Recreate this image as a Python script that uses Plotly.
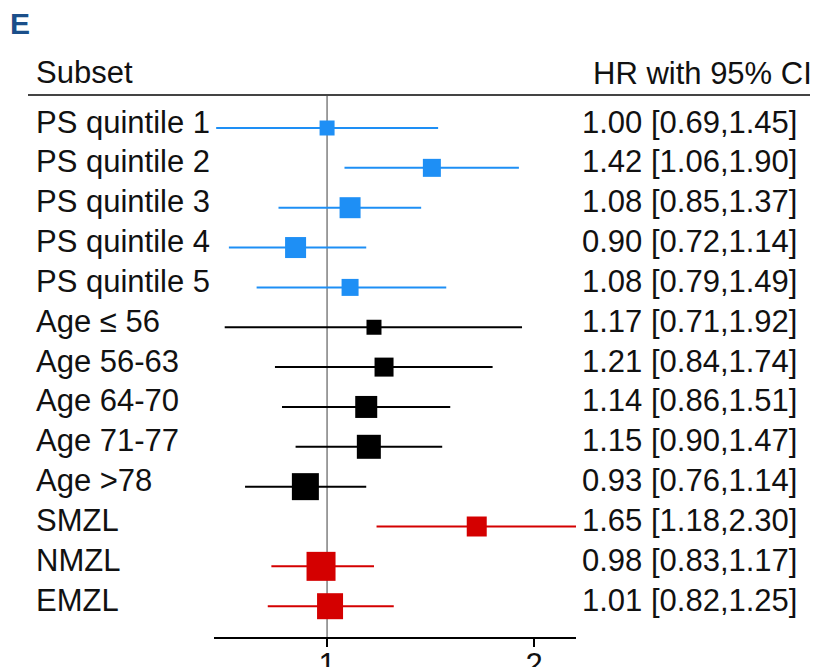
import math
import plotly.graph_objects as go

# ---- data ----
subsets = ["PS quintile 1", "PS quintile 2", "PS quintile 3", "PS quintile 4", "PS quintile 5",
           "Age \u2264 56", "Age 56-63", "Age 64-70", "Age 71-77", "Age >78",
           "SMZL", "NMZL", "EMZL"]
hr = [1.00, 1.42, 1.08, 0.90, 1.08, 1.17, 1.21, 1.14, 1.15, 0.93, 1.65, 0.98, 1.01]
ci_low = [0.69, 1.06, 0.85, 0.72, 0.79, 0.71, 0.84, 0.86, 0.90, 0.76, 1.18, 0.83, 0.82]
ci_high = [1.45, 1.90, 1.37, 1.14, 1.49, 1.92, 1.74, 1.51, 1.47, 1.14, 2.30, 1.17, 1.25]
groups = ["PS"] * 5 + ["Age"] * 5 + ["Histology"] * 3
x_ticks = [1, 2]

# ---- styles ----
box_px = [15, 18, 21, 21, 17, 15, 19, 22, 24, 27, 20, 29, 26]
colors = {"PS": "#1E8FF5", "Age": "#000000", "Histology": "#D40000"}
FONT = "Liberation Sans, Arial, sans-serif"
FS = 31
OFF = 8                       # page body margin in the browser
W, H = 818 - OFF, 667 - OFF   # figure size (reference px minus body margin)
ax_left, ax_right = 214 - OFF, 576 - OFF
top_px, bottom_px = 96 - OFF, 637 - OFF
row0, row_step = 128 - OFF, 39.85

fig = go.Figure()
for g, col in colors.items():
    idx = [i for i, gg in enumerate(groups) if gg == g]
    xs, ys = [], []
    for i in idx:
        xs += [ci_low[i], ci_high[i], None]
        ys += [i, i, None]
    fig.add_trace(go.Scatter(x=xs, y=ys, mode="lines",
                             line=dict(color=col, width=2), hoverinfo="skip",
                             showlegend=False))
    fig.add_trace(go.Scatter(x=[hr[i] for i in idx], y=idx, mode="markers",
                             marker=dict(symbol="square", size=[box_px[i] for i in idx],
                                         color=col, opacity=1, line=dict(width=0)),
                             showlegend=False))

def px_x(px):
    return (px - OFF) / W

def px_y(py):
    return (bottom_px - (py - OFF)) / (bottom_px - top_px)

ann = []
ann.append(dict(text="<b>E</b>", x=px_x(8), y=px_y(23), xref="paper", yref="paper",
                xanchor="left", yanchor="middle", showarrow=False,
                font=dict(family=FONT, size=30, color="#1B4F8A")))
ann.append(dict(text="Subset", x=px_x(34), y=px_y(72), xref="paper", yref="paper",
                xanchor="left", yanchor="middle", showarrow=False,
                font=dict(family=FONT, size=FS, color="#111")))
ann.append(dict(text="HR with 95% CI", x=px_x(814), y=px_y(74), xref="paper", yref="paper",
                xanchor="right", yanchor="middle", showarrow=False,
                font=dict(family=FONT, size=FS, color="#111")))
for i, name in enumerate(subsets):
    ann.append(dict(text=name, x=px_x(34), y=i, xref="paper", yref="y",
                    xanchor="left", yanchor="middle", showarrow=False, yshift=6,
                    font=dict(family=FONT, size=FS, color="#111")))
    ann.append(dict(text=f"{hr[i]:.2f} [{ci_low[i]:.2f},{ci_high[i]:.2f}]",
                    x=px_x(799), y=i, xref="paper", yref="y",
                    xanchor="right", yanchor="middle", showarrow=False, yshift=6,
                    font=dict(family=FONT, size=FS, color="#111")))

shapes = [
    dict(type="line", xref="paper", yref="paper", x0=px_x(28), x1=1.0,
         y0=px_y(95), y1=px_y(95), line=dict(color="#444", width=2)),
    dict(type="line", xref="x", yref="paper", x0=1, x1=1, y0=0, y1=px_y(95),
         line=dict(color="#808080", width=1.5), layer="below"),
]

y_top = (top_px - row0) / row_step
y_bot = (bottom_px - row0) / row_step

fig.update_layout(
    width=W, height=H,
    margin=dict(l=0, r=0, t=top_px, b=H - bottom_px),
    paper_bgcolor="white", plot_bgcolor="white",
    xaxis=dict(type="log", domain=[ax_left / W, ax_right / W],
               range=[math.log10(0.685), math.log10(2.30)],
               tickvals=x_ticks, ticktext=[str(t) for t in x_ticks],
               ticks="outside", ticklen=8, tickwidth=2, tickcolor="#000",
               ticklabelstandoff=-9,
               showline=True, linecolor="#000", linewidth=2,
               showgrid=False, zeroline=False, automargin=False,
               tickfont=dict(family=FONT, size=FS, color="#111")),
    yaxis=dict(range=[y_bot, y_top], visible=False, automargin=False),
    annotations=ann, shapes=shapes,
)

fig.write_html("out.html")
